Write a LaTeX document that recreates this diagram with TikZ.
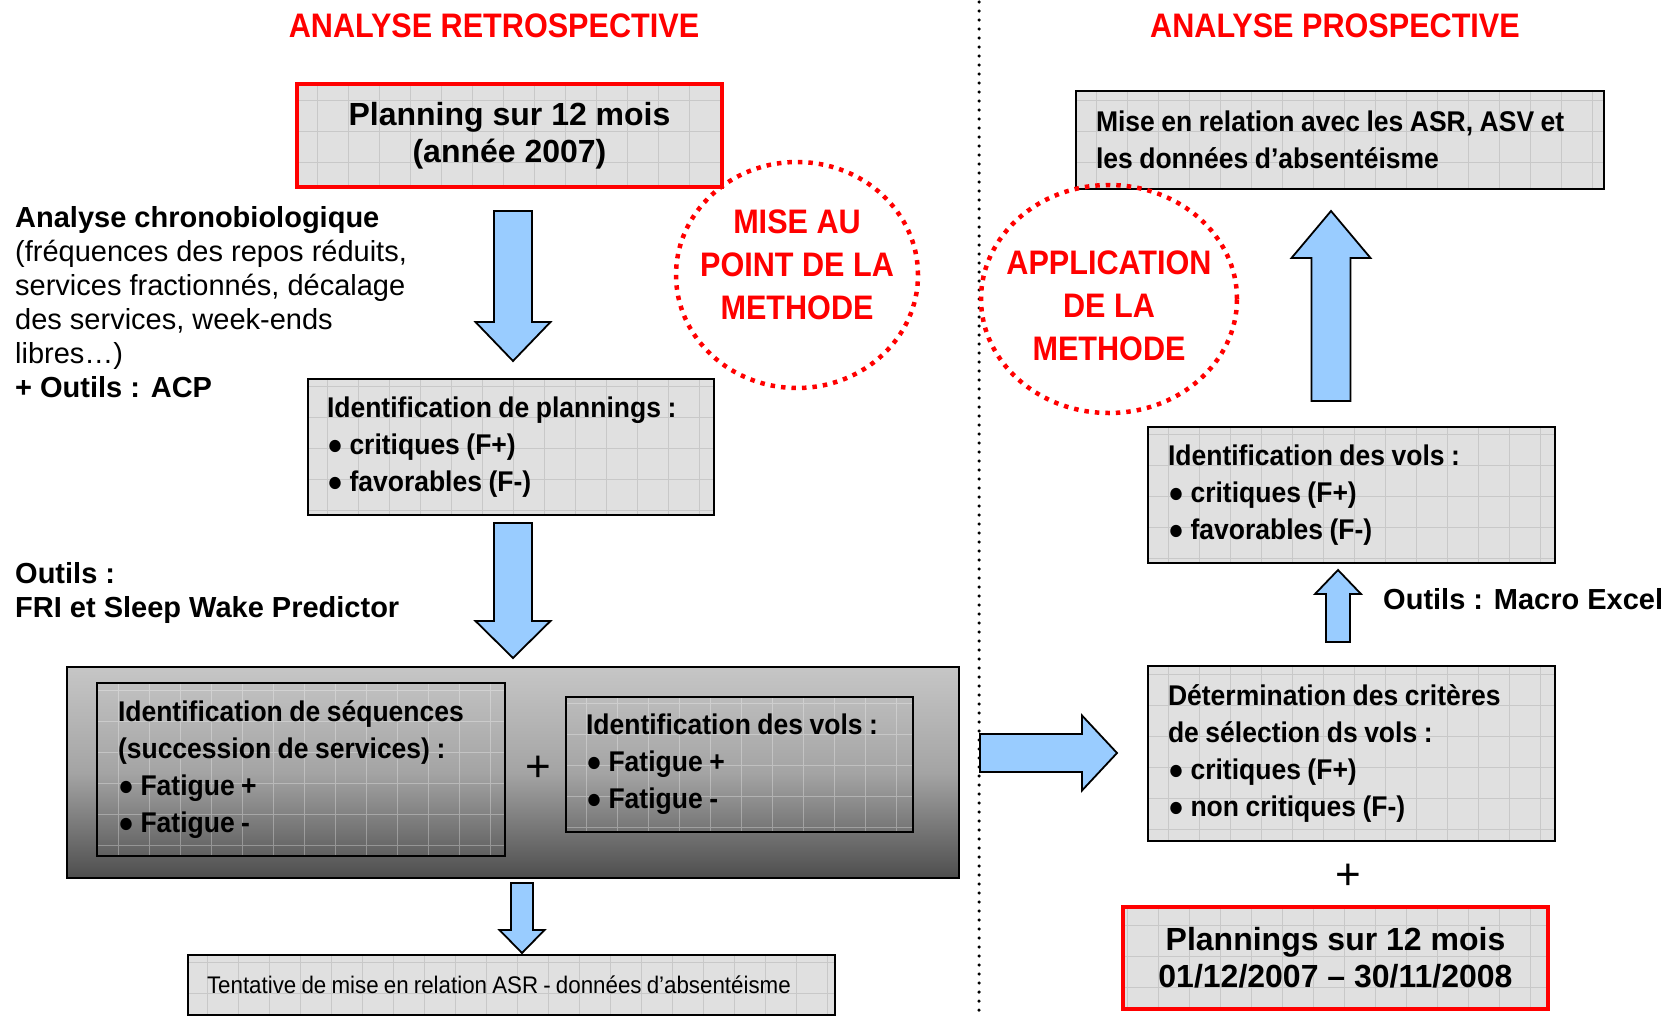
\documentclass[tikz,border=0pt]{standalone}
\usepackage{fontspec}
\setmainfont{Liberation Sans}
\newfontfamily\narrowfont[FakeStretch=0.9]{Liberation Sans}
\newfontfamily\boxfont[FakeStretch=0.93]{Liberation Sans}
\usetikzlibrary{positioning,calc,shapes.geometric}

\definecolor{boxgray}{HTML}{E0E0E0}
\definecolor{gridgray}{HTML}{C8C8C8}
\definecolor{arrowblue}{HTML}{99CCFF}
\definecolor{titlered}{HTML}{FF0000}
\definecolor{shadetop}{HTML}{C6C6C6}
\definecolor{shademid}{HTML}{A4A4A4}
\definecolor{shadebot}{HTML}{4E4E4E}

% fat block arrow: from, to, shaft half width, head half width, head length
\newcommand{\fatarrow}[5]{%
  \coordinate (fa-base) at ($(#2)!#5!(#1)$);
  \draw[fatarrowline]
    ($(#1)!#3!90:(#2)$) -- ($(fa-base)!#3!-90:(#1)$) -- ($(fa-base)!#4!-90:(#1)$)
    -- (#2) -- ($(fa-base)!#4!90:(#1)$) -- ($(fa-base)!#3!90:(#1)$)
    -- ($(#1)!#3!-90:(#2)$) -- cycle;}

\begin{document}
\begin{tikzpicture}[x=1pt,y=-1pt,
  gridbox/.style={draw=black, line width=1.8pt, fill=boxgray, inner ysep=0pt,
    path picture={\draw[gridgray, line width=0.7pt] (path picture bounding box.south west) grid[step=31pt] (path picture bounding box.north east);}},
  redbox/.style={gridbox, draw=titlered, line width=4.5pt},
  innerbox/.style={draw=black, line width=1.8pt, inner ysep=0pt,
    path picture={\draw[white, opacity=0.3, line width=0.7pt] (path picture bounding box.south west) grid[step=31pt] (path picture bounding box.north east);}},
  shadebox/.style={draw=black, line width=1.8pt, top color=shadetop, bottom color=shadebot, middle color=shademid},
  titletext/.style={font=\narrowfont\bfseries\fontsize{34}{40}\selectfont, text=titlered, inner sep=0pt},
  methtext/.style={font=\narrowfont\bfseries\fontsize{34}{43}\selectfont, text=titlered, align=center, inner sep=0pt},
  condtext/.style={font=\boxfont\bfseries\fontsize{28.5}{37}\selectfont, align=left,
    execute at begin node={\spaceskip=6.5pt plus 2pt\relax}},
  bigtext/.style={font=\bfseries\fontsize{32}{37}\selectfont, align=center},
  plaintext/.style={font=\fontsize{29}{34}\selectfont, inner sep=0pt, align=left},
  plustext/.style={font=\fontsize{44}{46}\selectfont, inner sep=0pt},
  methcircle/.style={ellipse, draw=titlered, line width=4.5pt, dash pattern=on 4.5pt off 6pt, inner sep=0pt},
  divider/.style={line width=3.5pt, dash pattern=on 0pt off 9pt, line cap=round},
  fatarrowline/.style={fill=arrowblue, draw=black, line width=1.8pt, line join=miter}]

\useasboundingbox (0,0) rectangle (1677,1017);

% titles and divider
\node[titletext] (tleft) at (494,26) {ANALYSE RETROSPECTIVE};
\node[titletext] (tright) at (1335,26) {ANALYSE PROSPECTIVE};
\coordinate (dtop) at (979,2);
\coordinate (dbot) at (979,1015);
\draw[divider] (dtop) -- (dbot);

% left column
\node[redbox, bigtext, minimum width=425, minimum height=103] (plan07) at (509.5,135.5) {Planning sur 12 mois\\(année 2007)};
\node[plaintext, anchor=north west] (chrono) at (15,206) {\textbf{Analyse chronobiologique}\\(fréquences des repos réduits,\\services fractionnés, décalage\\des services, week-ends\\libres…)\\\textbf{+ Outils : ACP}};
\node[gridbox, condtext, inner xsep=19pt, text width=368, minimum height=136] (plannings) at (511,447) {Identification de plannings :\\● critiques (F+)\\● favorables (F-)};
\node[plaintext, anchor=north west] (outilsfri) at (15,562) {\textbf{Outils :}\\\textbf{FRI et Sleep Wake Predictor}};

\node[shadebox, minimum width=892, minimum height=211] (seqbox) at (513,772.5) {};
\node[innerbox, condtext, inner xsep=21pt, text width=366, minimum height=173] (sequences) at (301,769.5) {Identification de séquences\\(succession de services) :\\● Fatigue +\\● Fatigue -};
\node[plustext] (plusleft) at (538,769) {+};
\node[innerbox, condtext, inner xsep=20pt, text width=307, minimum height=135] (volsleft) at (739.5,764.5) {Identification des vols :\\● Fatigue +\\● Fatigue -};

\node[gridbox, font=\boxfont\fontsize{24}{28}\selectfont, execute at begin node={\spaceskip=5.2pt plus 2pt\relax}, inner xsep=19pt, text width=609, align=left, minimum height=60] (tentative) at (511.5,985) {Tentative de mise en relation ASR - données d’absentéisme};

\node[methcircle, minimum width=242, minimum height=226] (mise) at (797,275) {};
\node[methtext] (misetext) at ([yshift=10pt]mise.center) {MISE AU\\POINT DE LA\\METHODE};

% right column
\node[gridbox, condtext, inner xsep=20pt, text width=488, minimum height=98] (relation) at (1340,140) {Mise en relation avec les ASR, ASV et\\les données d’absentéisme};
\node[methcircle, minimum width=256, minimum height=228] (appl) at (1109,299) {};
\node[methtext] (appltext) at ([yshift=-7pt]appl.center) {APPLICATION\\DE LA\\METHODE};
\node[gridbox, condtext, inner xsep=20pt, text width=367, minimum height=136] (volsright) at (1351.5,495) {Identification des vols :\\● critiques (F+)\\● favorables (F-)};
\node[plaintext, anchor=west] (macro) at (1383,599) {\textbf{Outils : Macro Excel}};
\node[gridbox, condtext, inner xsep=20pt, text width=367, minimum height=175] (criteres) at (1351.5,753.5) {Détermination des critères\\de sélection ds vols :\\● critiques (F+)\\● non critiques (F-)};
\node[plustext] (plusright) at (1348,877) {+};
\node[redbox, bigtext, minimum width=425, minimum height=102] (plan08) at (1335.5,958) {Plannings sur 12 mois\\01/12/2007 – 30/11/2008};

% block arrows
\coordinate (a1s) at (513,211);   \coordinate (a1e) at (513,361);
\coordinate (a2s) at (513,523);   \coordinate (a2e) at (513,658);
\coordinate (a3s) at (522,883);   \coordinate (a3e) at (522,953);
\coordinate (a4s) at (980,753);   \coordinate (a4e) at (1117,753);
\coordinate (a5s) at (1331,401);  \coordinate (a5e) at (1331,211);
\coordinate (a6s) at (1338,642);  \coordinate (a6e) at (1338,570);
\fatarrow{a1s}{a1e}{19pt}{37.5pt}{39pt}
\fatarrow{a2s}{a2e}{19pt}{37.5pt}{37pt}
\fatarrow{a3s}{a3e}{11pt}{22.5pt}{23pt}
\fatarrow{a4s}{a4e}{19pt}{37.5pt}{35pt}
\fatarrow{a5s}{a5e}{19.5pt}{39.5pt}{47pt}
\fatarrow{a6s}{a6e}{12pt}{23pt}{24pt}
\end{tikzpicture}
\end{document}
